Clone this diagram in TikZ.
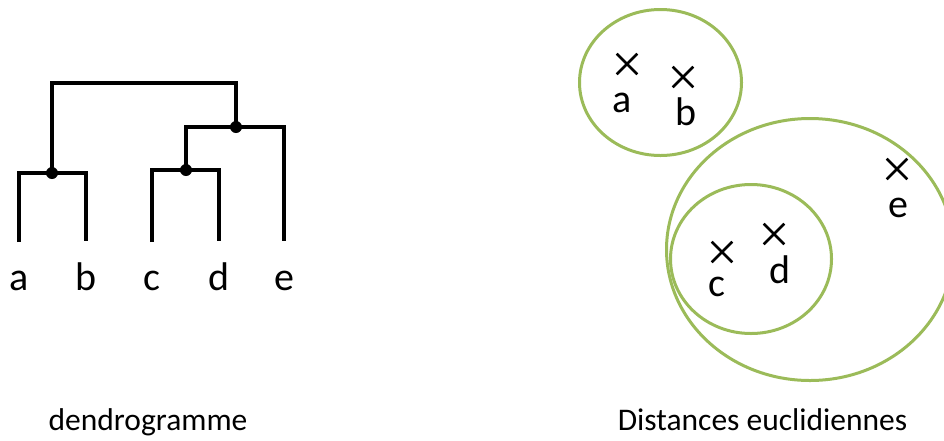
\documentclass[tikz,border=0pt]{standalone}
\usepackage{fontspec}
\setmainfont{Carlito}
\usetikzlibrary{positioning,shapes.misc}
\definecolor{clustergreen}{RGB}{155,187,89}
\tikzset{
  branch/.style={line width=4pt},
  junction/.style={circle, fill=black, inner sep=0pt, minimum size=12pt},
  leaflabel/.style={font=\fontsize{40}{44}\selectfont, inner sep=0pt, anchor=base},
  caption/.style={font=\fontsize{31.5}{36}\selectfont, inner sep=0pt, anchor=base},
  cluster/.style={draw=clustergreen, line width=3pt},
  pointmark/.style={cross out, draw=black, line width=2.6pt,
                    inner sep=0pt, minimum size=18pt}
}
\begin{document}
\begin{tikzpicture}[x=1pt, y=-1pt]
  \useasboundingbox (0,0) rectangle (944,440);
  % dendrogramme : feuilles
  \coordinate (leafa) at (19,242);
  \coordinate (leafb) at (86,241);
  \coordinate (leafc) at (152,242);
  \coordinate (leafd) at (219,241);
  \coordinate (leafe) at (284,241);
  \foreach \l/\x in {a/19,b/86,c/152,d/219,e/284}
    \node[leaflabel] (lab\l) at (\x,290) {\l};
  % jonctions
  \node[junction] (jab)  at (52,173) {};
  \node[junction] (jcd)  at (186,170) {};
  \node[junction] (jcde) at (236,127) {};
  \coordinate (top) at (52,83);
  \draw[branch] (leafa) |- (jab.center) -| (leafb);
  \draw[branch] (leafc) |- (jcd.center) -| (leafd);
  \draw[branch] (jcd.center) |- (jcde.center) -| (leafe);
  \draw[branch] (jab.center) -- (top) -| (jcde.center);
  \node[caption] (capdendro) at (148,430) {dendrogramme};
  % distances euclidiennes : points
  \node[pointmark] (pa) at (627,64) {};
  \node[pointmark] (pb) at (683,77) {};
  \node[pointmark] (pc) at (722,252) {};
  \node[pointmark] (pd) at (774,234) {};
  \node[pointmark] (pe) at (897,169) {};
  \node[leaflabel] (ta) at (622,112) {a};
  \node[leaflabel] (tb) at (686,125) {b};
  \node[leaflabel] (tc) at (717,296) {c};
  \node[leaflabel] (td) at (780,283) {d};
  \node[leaflabel] (te) at (898,217) {e};
  % groupes
  \draw[cluster] (660.5,82.5) ellipse [x radius=81, y radius=73];
  \draw[cluster] (810,249.5) ellipse [x radius=143.5, y radius=131];
  \draw[cluster] (751,259) ellipse [x radius=80.5, y radius=74.5];
  \node[caption] (capdist) at (762.5,430) {Distances euclidiennes};
\end{tikzpicture}
\end{document}
